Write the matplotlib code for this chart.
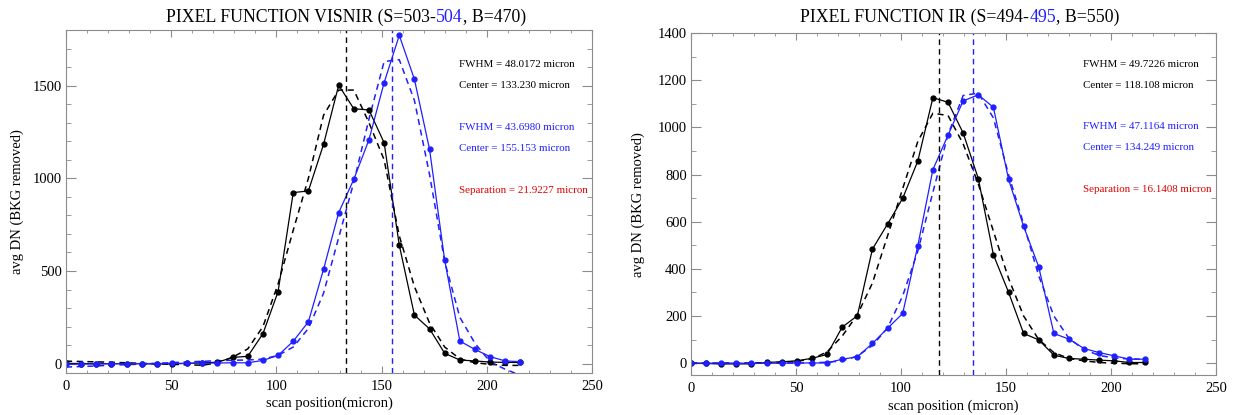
import matplotlib
matplotlib.use('Agg')
import matplotlib.pyplot as plt
from matplotlib.ticker import MultipleLocator

# scan positions (micron), shared by both panels
scan_x = [0, 7.2, 14.4, 21.6, 28.8, 36.0, 43.2, 50.4, 57.6, 64.8, 72.0,
          79.2, 86.4, 93.6, 100.8, 108.0, 115.2, 122.4, 129.6, 136.8, 144.0,
          151.2, 158.4, 165.6, 172.8, 180.0, 187.2, 194.4, 201.6, 208.8, 216.0]

# VISNIR panel, S=503 (black) and S=504 (blue)
vis_black = [2, 1, 0, 0, 1, 0, -1, -1, 2, 5, 8, 34, 40, 162, 389, 923, 932,
             1183, 1502, 1375, 1369, 1192, 640, 262, 188, 56, 20, 15, 9, 7, 7]
vis_black_fit = [14, 12, 10, 8, 5, 2, 0, -3, -6, -8, 5, 35, 80, 200, 430, 720,
                 1000, 1340, 1476, 1476, 1300, 1100, 690, 416, 219, 90, 26, 5,
                 -3, -9, -9]
vis_blue = [-3, -2, -1, 0, 0, 1, 1, 2, 2, 3, 4, 5, 5, 18, 45, 121, 226, 509,
            815, 995, 1208, 1516, 1771, 1534, 1156, 557, 122, 77, 38, 15, 11]
vis_blue_fit = [-18, -15, -12, -8, -5, -2, 2, 6, 10, 13, 16, 19, 20, 25, 45,
                90, 190, 380, 680, 980, 1320, 1630, 1640, 1420, 1020, 550, 250,
                110, 10, -30, -62]
vis_centers = [133.230, 155.153]
vis_notes = [(1613, 'FWHM = 48.0172 micron', 'black'),
             (1498, 'Center = 133.230 micron', 'black'),
             (1276, 'FWHM = 43.6980 micron', 'blue'),
             (1161, 'Center = 155.153 micron', 'blue'),
             (937, 'Separation = 21.9227 micron', 'red')]

# IR panel, S=494 (black) and S=495 (blue)
ir_black = [0, -1, -3, -3, -3, 3, 6, 10, 21, 37, 153, 201, 484, 590, 699, 857,
            1126, 1106, 976, 783, 460, 301, 126, 99, 34, 20, 17, 13, 10, 3, 3]
ir_black_fit = [0, 0, 0, 1, 1, 2, 4, 8, 18, 48, 115, 205, 340, 540, 740, 940,
                1060, 1050, 930, 760, 560, 360, 200, 100, 45, 20, 10, 3, 0, -2, -3]
ir_blue = [0, 0, 0, 1, -1, 0, 0, 1, 1, 1, 17, 27, 84, 148, 211, 498, 821, 967,
           1112, 1138, 1085, 780, 580, 408, 126, 102, 62, 45, 31, 17, 17]
ir_blue_fit = [-1, -1, -1, 0, 0, 0, 0, 1, 2, 4, 10, 30, 75, 150, 285, 475, 725,
               970, 1135, 1145, 1040, 800, 590, 370, 200, 105, 58, 33, 22, 18, 17]
ir_centers = [118.108, 134.249]
ir_notes = [(1268, 'FWHM = 49.7226 micron', 'black'),
            (1179, 'Center = 118.108 micron', 'black'),
            (1003, 'FWHM = 47.1164 micron', 'blue'),
            (913, 'Center = 134.249 micron', 'blue'),
            (736, 'Separation = 16.1408 micron', 'red')]

BLUE = '#1f1fff'
RED = '#e00000'
GRAY = '#8c8c8c'
DASH = (0, (4, 3))
W, H = 1234, 415

plt.rcParams['font.family'] = ['Liberation Serif', 'DejaVu Serif']

fig = plt.figure(figsize=(W / 100, H / 100), dpi=100)
ax1 = fig.add_axes([66 / W, 42 / H, 526 / W, 343 / H])
ax2 = fig.add_axes([691 / W, 40 / H, 525 / W, 342 / H])


def draw_panel(ax, black, black_fit, blue, blue_fit, centers, notes, ylim, ystep):
    col = {'black': 'black', 'blue': BLUE, 'red': RED}
    ax.plot(scan_x, black_fit, color='black', ls=DASH, lw=1.1)
    ax.plot(scan_x, blue_fit, color=BLUE, ls=DASH, lw=1.1)
    ax.plot(scan_x, black, color='black', lw=0.9, marker='o', ms=3.5)
    ax.plot(scan_x, blue, color=BLUE, lw=0.9, marker='o', ms=3.5)
    ax.axvline(centers[0], color='black', ls=DASH, lw=1)
    ax.axvline(centers[1], color=BLUE, ls=DASH, lw=1)
    for y, s, c in notes:
        ax.text(186.8, y, s, color=col[c], fontsize=7.9, va='center', ha='left')

    ax.set_xlim(0, 250)
    ax.set_ylim(*ylim)
    ax.xaxis.set_major_locator(MultipleLocator(50))
    ax.xaxis.set_minor_locator(MultipleLocator(10))
    ax.yaxis.set_major_locator(MultipleLocator(ystep))
    ax.yaxis.set_minor_locator(MultipleLocator(100))
    ax.tick_params(which='both', direction='in', top=True, right=True,
                   color=GRAY, labelsize=10.5)
    ax.tick_params(axis='x', which='major', length=5, pad=5)
    ax.tick_params(axis='x', which='minor', length=2.5)
    ax.tick_params(axis='y', which='major', length=7, pad=3)
    ax.tick_params(axis='y', which='minor', length=3.5)
    for sp in ax.spines.values():
        sp.set_color(GRAY)


def split_title(x_px, y_px, parts, size=12.8):
    r = fig.canvas.get_renderer()
    texts = [fig.text(0, 1 - y_px / H, s, color=c, fontsize=size, va='center')
             for s, c in parts]
    widths = [t.get_window_extent(r).width for t in texts]
    x = x_px - sum(widths) / 2
    for t, w in zip(texts, widths):
        t.set_x(x / W)
        x += w


draw_panel(ax1, vis_black, vis_black_fit, vis_blue, vis_blue_fit,
           vis_centers, vis_notes, (-50, 1800), 500)
draw_panel(ax2, ir_black, ir_black_fit, ir_blue, ir_blue_fit,
           ir_centers, ir_notes, (-50, 1400), 200)

split_title(346, 17, [('PIXEL FUNCTION VISNIR (S=503-', 'black'),
                      ('504', BLUE), (', B=470)', 'black')])
split_title(960, 17, [('PIXEL FUNCTION IR (S=494-', 'black'),
                      ('495', BLUE), (', B=550)', 'black')])

fig.text(17 / W, 1 - 202 / H, 'avg DN (BKG removed)', rotation=90,
         ha='center', va='center', fontsize=10.5)
fig.text(638 / W, 1 - 205 / H, 'avg DN (BKG removed)', rotation=90,
         ha='center', va='center', fontsize=10.5)
fig.text(329 / W, 1 - 403 / H, 'scan position(micron)',
         ha='center', va='center', fontsize=10.5)
fig.text(953 / W, 1 - 406 / H, 'scan position (micron)',
         ha='center', va='center', fontsize=10.5)

fig.savefig('out.png', dpi=100)
